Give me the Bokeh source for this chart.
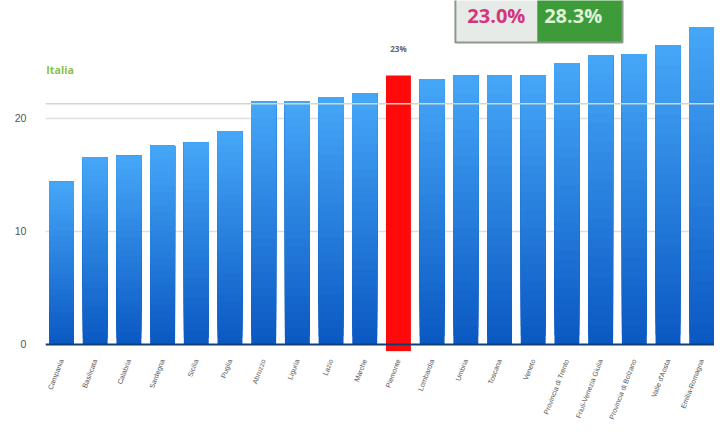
from bokeh.plotting import figure
from bokeh.models import Range1d, FixedTicker, Span, Label
from bokeh.core.properties import value
from bokeh.embed import file_html
from bokeh.resources import INLINE

regions = ["Campania", "Basilicata", "Calabria", "Sardegna", "Sicilia", "Puglia",
           "Abruzzo", "Liguria", "Lazio", "Marche", "Piemonte", "Lombardia",
           "Umbria", "Toscana", "Veneto", "Provincia di Trento",
           "Friuli-Venezia Giulia", "Provincia di Bolzano", "Valle d'Aosta",
           "Emilia-Romagna"]
values = [14.4, 16.6, 16.7, 17.6, 17.9, 18.9, 21.5, 21.5, 21.9, 22.2,
          23.8, 23.5, 23.8, 23.8, 23.8, 24.9, 25.6, 25.7, 26.5, 28.1]
highlight = "Piemonte"
highlight_label = "23%"
italia_value = 21.3
badge_left = "23.0%"
badge_right = "28.3%"
y_ticks = [0, 10, 20]

xs = list(range(len(regions)))
hi = regions.index(highlight)

p = figure(width=714, height=425, output_backend="svg", toolbar_location=None,
           x_range=Range1d(-0.475, 19.38), y_range=Range1d(-0.62, 30.44),
           min_border_left=45, min_border_right=0, min_border_top=0,
           min_border_bottom=74)
p.outline_line_color = None
p.background_fill_color = "white"

# grid
p.xgrid.visible = False
p.ygrid.ticker = FixedTicker(ticks=[10, 20])
p.ygrid.grid_line_color = "#dedede"
p.ygrid.grid_line_width = 1.5

# italia reference line
p.add_layout(Span(location=italia_value, dimension="width",
                  line_color="#d4d6c6", line_width=1.5))
p.add_layout(Label(x=-0.45, y=24.25, text="Italia", text_color="#8cbf4a",
                   text_font_size="8pt", text_font_style="bold",
                   text_font="Open Sans", text_baseline="middle"))

# gradient blue bars (light top, dark bottom); each slice runs to the bar top
top_rgb = (0x46, 0xa7, 0xf8)
bot_rgb = (0x0a, 0x58, 0xc2)
n = 30
gx, gb, gt, gc = [], [], [], []
for k in range(n):
    f = (k + 0.5) / n
    c = tuple(int(round(bot_rgb[j] + (top_rgb[j] - bot_rgb[j]) * f)) for j in range(3))
    for i, v in enumerate(values):
        if i == hi:
            continue
        gx.append(i)
        gb.append(v * k / n)
        gt.append(v)
        gc.append("#%02x%02x%02x" % c)
p.vbar(x=gx, bottom=gb, top=gt, width=0.74, fill_color=gc, line_color=None)

p.add_layout(Span(location=0, dimension="width", line_color="#123c78",
                  line_width=2))

p.vbar(x=[hi], top=[values[hi]], bottom=-0.6, width=0.74,
       fill_color="#ff0a0a", line_color=None)
p.text(x=[hi], y=[values[hi] + 2.4], text=[highlight_label],
       text_font_size="6pt", text_color="#666666", text_font_style="bold",
       text_align="center", text_baseline="middle",
       text_font=value("Open Sans"))

# badge
bl, bm, br, bb = 11.69, 14.12, 16.65, 26.73
p.quad(left=[bl], right=[bm], bottom=[bb], top=[31], fill_color="#e6ebe8",
       line_color=None)
p.quad(left=[bm], right=[br], bottom=[bb], top=[31], fill_color="#3d9b3a",
       line_color=None)
p.quad(left=[bl], right=[br], bottom=[bb], top=[31], fill_color=None,
       line_color="#8c9a8c", line_width=2)
p.text(x=[(bl + bm) / 2], y=[29.15], text=[badge_left], text_color="#d4357c",
       text_font_size="15pt", text_font_style="bold", text_align="center",
       text_baseline="middle", text_font=value("Open Sans"))
p.text(x=[(bm + br) / 2 - 0.2], y=[29.15], text=[badge_right], text_color="#dff2d6",
       text_font_size="15pt", text_font_style="bold", text_align="center",
       text_baseline="middle", text_font=value("Open Sans"))

# axes
p.yaxis.ticker = FixedTicker(ticks=y_ticks)
p.yaxis.axis_line_color = None
p.yaxis.major_tick_line_color = None
p.yaxis.minor_tick_line_color = None
p.yaxis.major_label_text_color = "#555555"
p.yaxis.major_label_text_font_size = "8pt"
p.yaxis.major_label_standoff = 13

p.xaxis.ticker = FixedTicker(ticks=xs)
p.xaxis.major_label_overrides = {i: r for i, r in enumerate(regions)}
p.xaxis.axis_line_color = None
p.xaxis.major_tick_line_color = None
p.xaxis.minor_tick_line_color = None
p.xaxis.major_label_orientation = 1.2
p.xaxis.major_label_text_font_size = "5.3pt"
p.xaxis.major_label_text_color = "#555555"
p.xaxis.major_label_standoff = 2

open("out.html", "w").write(file_html(p, INLINE))
